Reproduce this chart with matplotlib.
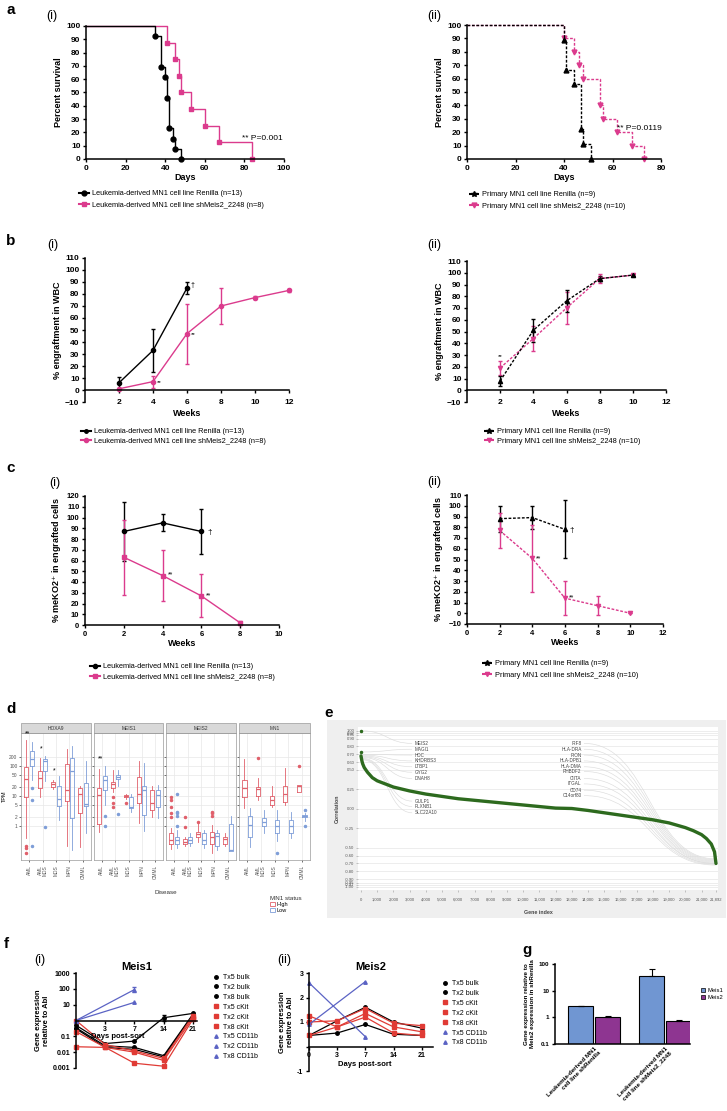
import numpy as np
import matplotlib
matplotlib.use("Agg")
from matplotlib import pyplot as plt
from matplotlib.patches import Rectangle, PathPatch, Patch
from matplotlib.path import Path
from matplotlib.lines import Line2D
from matplotlib.ticker import NullLocator

plt.rcParams['font.family'] = ['Liberation Sans', 'DejaVu Sans']

# ---------------- data ----------------
# a: Kaplan-Meier (day of drop, % survival after drop)
a1_ren_days = [35, 38, 40, 41, 42, 44, 45, 48]
a1_ren_surv = [92.3, 69.2, 61.5, 46.2, 23.1, 15.4, 7.7, 0]
a1_sh_days = [41, 45, 47, 48, 53, 60, 67, 84]
a1_sh_surv = [87.5, 75, 62.5, 50, 37.5, 25, 12.5, 0]
a2_ren_days = [40, 41, 44, 47, 48, 51]
a2_ren_surv = [88.9, 66.7, 55.6, 22.2, 11.1, 0]
a2_sh_days = [40, 44, 46, 48, 55, 56, 62, 68, 73]
a2_sh_surv = [90, 80, 70, 60, 40, 30, 20, 10, 0]

# b: engraftment in WBC
b1_ren_weeks = [2, 4, 6]
b1_ren = [6, 33, 85]
b1_ren_err = [5, 18, 5]
b1_sh_weeks = [2, 4, 6, 8, 10, 12]
b1_sh = [1, 7, 47, 70, 77, 83]
b1_sh_err = [1, 5, 25, 15, 1, 1]
b2_weeks = [2, 4, 6, 8, 10]
b2_ren = [8, 51, 76, 95, 98]
b2_ren_err = [4, 10, 9, 2, 1]
b2_sh = [19, 44, 70, 95, 98]
b2_sh_err = [6, 11, 14, 4, 1]

# c: meKO2+ in engrafted cells
c1_ren_weeks = [2, 4, 6]
c1_ren = [87, 95, 87]
c1_ren_err = [27, 8, 21]
c1_sh_weeks = [2, 4, 6, 8]
c1_sh = [63, 46, 27, 2]
c1_sh_err = [35, 24, 20, 2]
c2_ren_weeks = [2, 4, 6]
c2_ren = [88, 89, 78]
c2_ren_err = [12, 11, 27]
c2_sh_weeks = [2, 4, 6, 8, 10]
c2_sh = [77, 51, 14, 7, 0]
c2_sh_err = [16, 31, 16, 9, 0]

# d: boxplot stats [whislo, q1, med, q3, whishi] per disease
d_genes = ['HOXA9', 'MEIS1', 'MEIS2', 'MN1']
d_disease = ['AML', 'AML\nMDS', 'MDS', 'MPN', 'CMML']
hoxa9_high = [[0.39, 9.6, 37, 93, 760], [9.6, 18, 40, 66, 185], [17, 20, 25, 30, 33], [0.21, 7.1, 16, 119, 370], [0.2, 2.7, 12, 18, 21]]
hoxa9_high_out = [[0.21, 0.18, 0.13], [], [], [], []]
hoxa9_low = [[35, 97, 172, 311, 621], [31, 66, 150, 172, 210], [1.6, 4.7, 7.8, 21, 48], [0.16, 1.8, 70, 185, 456], [0.57, 4.5, 5.5, 27, 143]]
hoxa9_low_out = [[18, 7.4, 0.21], [0.9], [], [], []]
meis1_high = [[0.65, 1.2, 11, 18, 79], [14, 18, 25, 30, 75], [8, 9.3, 10, 11, 12], [1.3, 5.8, 12, 43, 143], [2, 3.4, 5.8, 16, 21]]
meis1_high_out = [[], [9.6, 5.8, 4.4], [6], [], []]
meis1_low = [[5, 16, 35, 47, 103], [21, 37, 43, 51, 75], [3, 3.9, 4.4, 9.6, 12], [0.7, 2.3, 16, 21, 126], [1.9, 4.4, 11, 16, 24]]
meis1_low_out = [[2.2, 1.0], [2.5], [], [], []]
meis2_high = [[0.17, 0.25, 0.34, 0.57, 0.84], [0.22, 0.25, 0.3, 0.36, 0.44], [0.3, 0.44, 0.55, 0.65, 1.3], [0.13, 0.26, 0.44, 0.65, 1.1], [0.22, 0.26, 0.36, 0.44, 0.57]]
meis2_high_out = [[9.1, 7.4, 4.4, 2.8, 2.0], [2.0, 0.9], [1.4], [3.0, 2.8, 2.1], []]
meis2_low = [[0.18, 0.26, 0.34, 0.44, 0.73], [0.22, 0.28, 0.34, 0.44, 0.57], [0.18, 0.25, 0.34, 0.57, 0.73], [0.16, 0.22, 0.45, 0.57, 0.73], [0.15, 0.15, 0.16, 1.2, 2.1]]
meis2_low_out = [[12, 3.0, 2.8, 2.1, 1.0], [], [], [], []]
mn1_high = [[3.9, 9.1, 18, 35, 170], [7.4, 10, 17, 20, 40], [4.4, 5, 7.4, 10, 21], [5, 6.5, 12, 21, 85], [14, 14, 22, 24, 24]]
mn1_high_out = [[], [185], [], [], [98]]
mn1_low = [[0.2, 0.44, 1.08, 2.1, 3.9], [0.6, 1.0, 1.4, 1.8, 3.3], [0.32, 0.57, 1.0, 1.6, 3.3], [0.4, 0.57, 1.0, 1.6, 3.0], [1.5, 2.0, 2.2, 2.3, 2.8]]
mn1_low_out = [[], [], [0.13], [], [3.4, 1.0]]

# e: correlation vs gene index
e_index = [0, 50, 100, 200, 400, 700, 1000, 1500, 2000, 3000, 4000, 5000, 6000, 7000, 8000,
           9000, 10000, 11000, 12000, 13000, 14000, 15000, 16000, 17000, 18000, 19000, 20000,
           20500, 21000, 21300, 21600, 21800, 21892]
e_corr = [0.68, 0.62, 0.58, 0.53, 0.47, 0.40, 0.36, 0.32, 0.28, 0.23, 0.19, 0.16, 0.13, 0.11, 0.09,
          0.07, 0.05, 0.03, 0.01, 0.005, -0.02, -0.05, -0.08, -0.11, -0.14, -0.18, -0.24,
          -0.28, -0.33, -0.38, -0.45, -0.55, -0.70]
e_top_index = [0, 0]
e_top_corr = [1.0, 0.73]
e_left_genes = ['MEIS2', 'MAGI1', 'HDC', 'KHDRBS3', 'LTBP1', 'GYG2', 'DNAH8', 'GULP1', 'PLXNB1', 'SLC22A10']
e_left_corr = [1.00, 0.73, 0.70, 0.69, 0.68, 0.67, 0.66, 0.65, 0.64, 0.63]
e_left_ypos = [0.84, 0.765, 0.69, 0.615, 0.54, 0.47, 0.39, 0.10, 0.03, -0.05]
e_right_genes = ['IRF8', 'HLA-DRA', 'PION', 'HLA-DPB1', 'HLA-DMA', 'RHBDF2', 'CIITA', 'ITGAL', 'CD74', 'C14orf80']
e_right_corr = [-0.64, -0.65, -0.66, -0.67, -0.68, -0.69, -0.70, -0.70, -0.71, -0.72]
e_right_ypos = [0.84, 0.765, 0.69, 0.615, 0.54, 0.48, 0.39, 0.32, 0.24, 0.17]

# f: qPCR time course (days 0, 3, 7, 14, 21)
f_days = ['0', '3', '7', '14', '21']
meis1_series = {
    'Tx5 bulk': [0.5, 0.035, 0.05, 1.5, 2.8],
    'Tx2 bulk': [0.35, 0.025, 0.02, 0.006, 2.5],
    'Tx8 bulk': [0.3, 0.02, 0.015, 0.005, 2.2],
    'Tx5 cKit': [1.0, 0.03, 0.012, 0.004, 2.0],
    'Tx2 cKit': [0.2, 0.02, 0.01, 0.003, 1.5],
    'Tx8 cKit': [0.022, 0.02, 0.002, 0.0013, 1.2],
    'Tx5 CD11b': [1.0, None, 90, None, None],
    'Tx2 CD11b': [1.0, None, 14, None, None],
    'Tx8 CD11b': [1.0, None, None, None, None],
}
meis2_series = {
    'Tx5 bulk': [0.45, 1.05, 1.6, 1.0, 0.75],
    'Tx2 bulk': [0.45, 0.55, 0.9, 0.5, 0.45],
    'Tx5 cKit': [1.0, 1.05, 1.55, 0.95, 0.85],
    'Tx2 cKit': [1.25, 0.8, 1.35, 0.8, 0.6],
    'Tx8 cKit': [0.45, 0.8, 1.2, 0.55, 0.45],
    'Tx5 CD11b': [2.6, None, 0.4, None, None],
    'Tx8 CD11b': [0.9, None, 2.65, None, None],
}

# g: bar chart
g_groups = ['Leukemia-derived MN1\ncell line shRenilla', 'Leukemia-derived MN1\ncell line shMeis2_2248']
g_meis1 = [2.6, 35]
g_meis1_err = [0, 30]
g_meis2 = [1.05, 0.7]
g_meis2_err = [0.1, 0.08]

# ---------------- styling ----------------
W, H = 727, 1111
PINK = '#db3b8d'
RED = '#e03b35'
BLUE = '#5b63c4'
BOXRED = '#e0606b'
BOXBLUE = '#7f9ed8'
GREEN = '#2d6a1e'

fig = plt.figure(figsize=(W / 100, H / 100), dpi=100)


def rect(l, t, r, b):
    return [l / W, 1 - b / H, (r - l) / W, (b - t) / H]


def ftext(x, y, s, **kw):
    kw.setdefault('ha', 'center')
    kw.setdefault('va', 'center')
    fig.text(x / W, 1 - y / H, s, **kw)


def style(ax, size=6):
    for s in ['top', 'right']:
        ax.spines[s].set_visible(False)
    for s in ['left', 'bottom']:
        ax.spines[s].set_linewidth(1.1)
    ax.tick_params(labelsize=size, length=2.5, width=1, pad=1.5)
    for t in ax.get_xticklabels() + ax.get_yticklabels():
        t.set_fontweight('bold')


def legend(ax, handles, labels, x, y, size=5.3, spacing=0.35, hl=1.3):
    ax.legend(handles, labels, loc='upper left', bbox_to_anchor=(x / W, 1 - y / H),
              bbox_transform=fig.transFigure, frameon=False, fontsize=size,
              handlelength=hl, handletextpad=0.4, labelspacing=spacing,
              borderpad=0, borderaxespad=0)


def km(ax, days, surv, color, marker, ls, ms=3.5):
    ax.step([0] + days, [100] + surv, where='post', color=color, lw=1, ls=ls, clip_on=False)
    ax.plot(days, surv, ls='none', marker=marker, color=color, ms=ms, clip_on=False)


def eb(ax, x, y, err, color, marker, ls, ms=3):
    ax.errorbar(x, y, yerr=err, color=color, marker=marker, ms=ms, ls=ls, lw=1,
                capsize=1.5, elinewidth=1, capthick=1, clip_on=False)


DOT = (0, (2, 1.2))
LAB = dict(fontsize=6.5, fontweight='bold')

# panel letters
for s, x, y in [('a', 11, 10), ('b', 11, 241), ('c', 11, 468), ('d', 11, 709),
                ('e', 329, 713), ('f', 6, 944), ('g', 527, 950)]:
    ftext(x, y, s, fontsize=11, fontweight='bold')
for s, x, y in [('(i)', 52, 16), ('(ii)', 434, 16), ('(i)', 53, 245), ('(ii)', 434, 245),
                ('(i)', 55, 483), ('(ii)', 434, 482), ('(i)', 40, 960), ('(ii)', 284, 960)]:
    ftext(x, y, s, fontsize=9)

# ---------- a(i) ----------
ax = fig.add_axes(rect(86, 26, 284, 159))
km(ax, a1_sh_days, a1_sh_surv, PINK, 's', '-')
km(ax, a1_ren_days, a1_ren_surv, 'k', 'o', '-')
ax.set_xlim(0, 100)
ax.set_ylim(0, 100)
ax.set_xticks(range(0, 101, 20))
ax.set_yticks(range(0, 101, 10))
ax.set_xlabel('Days', labelpad=1, **LAB)
ax.set_ylabel('Percent survival', labelpad=2, **LAB)
ax.text(79, 14, '** P=0.001', fontsize=6)
style(ax)
legend(ax, [Line2D([], [], color='k', marker='o', ms=3.5), Line2D([], [], color=PINK, marker='s', ms=3.5)],
       ['Leukemia-derived MN1 cell line Renilla (n=13)', 'Leukemia-derived MN1 cell line shMeis2_2248 (n=8)'],
       79, 190, spacing=0.6)

# ---------- a(ii) ----------
ax = fig.add_axes(rect(467, 25, 661, 159))
km(ax, a2_sh_days, a2_sh_surv, PINK, 'v', DOT)
km(ax, a2_ren_days, a2_ren_surv, 'k', '^', DOT)
ax.set_xlim(0, 80)
ax.set_ylim(0, 100)
ax.set_xticks(range(0, 81, 20))
ax.set_yticks(range(0, 101, 10))
ax.set_xlabel('Days', labelpad=1, **LAB)
ax.set_ylabel('Percent survival', labelpad=2, **LAB)
ax.text(62, 22, '** P=0.0119', fontsize=6)
style(ax)
legend(ax, [Line2D([], [], color='k', marker='*', ms=4, ls=DOT), Line2D([], [], color=PINK, marker='v', ms=3.5, ls=DOT)],
       ['Primary MN1 cell line Renilla (n=9)', 'Primary MN1 cell line shMeis2_2248 (n=10)'],
       469, 191, spacing=0.6)

# ---------- b(i) ----------
ax = fig.add_axes(rect(85, 258, 289, 402))
eb(ax, b1_ren_weeks, b1_ren, b1_ren_err, 'k', 'o', '-')
eb(ax, b1_sh_weeks, b1_sh, b1_sh_err, PINK, 'o', '-')
ax.set_xlim(0, 12)
ax.set_ylim(-10, 110)
ax.set_xticks(range(2, 13, 2))
ax.set_yticks(range(-10, 111, 10))
ax.spines['bottom'].set_position(('data', 0))
ax.set_xlabel('Weeks', labelpad=2, **LAB)
ax.set_ylabel('% engraftment in WBC', labelpad=2, **LAB)
ax.text(6.2, 86, '†', fontsize=5)
ax.text(4.2, 5, '**', fontsize=4.5)
ax.text(6.2, 45, '**', fontsize=4.5)
style(ax)
ax.tick_params(axis='x', pad=4)
legend(ax, [Line2D([], [], color='k', marker='o', ms=2.5), Line2D([], [], color=PINK, marker='o', ms=3)],
       ['Leukemia-derived MN1 cell line Renilla (n=13)', 'Leukemia-derived MN1 cell line shMeis2_2248 (n=8)'],
       81, 428)

# ---------- b(ii) ----------
ax = fig.add_axes(rect(467, 261, 666, 402))
eb(ax, b2_weeks, b2_sh, b2_sh_err, PINK, 'v', DOT)
eb(ax, b2_weeks, b2_ren, b2_ren_err, 'k', '^', DOT)
ax.set_xlim(0, 12)
ax.set_ylim(-10, 110)
ax.set_xticks(range(2, 13, 2))
ax.set_yticks(range(-10, 111, 10))
ax.spines['bottom'].set_position(('data', 0))
ax.set_xlabel('Weeks', labelpad=2, **LAB)
ax.set_ylabel('% engraftment in WBC', labelpad=2, **LAB)
ax.text(2, 27, '**', fontsize=4.5, ha='center')
style(ax)
ax.tick_params(axis='x', pad=4)
legend(ax, [Line2D([], [], color='k', marker='*', ms=4, ls=DOT), Line2D([], [], color=PINK, marker='v', ms=3, ls=DOT)],
       ['Primary MN1 cell line Renilla (n=9)', 'Primary MN1 cell line shMeis2_2248 (n=10)'],
       484, 428)

# ---------- c(i) ----------
ax = fig.add_axes(rect(85, 496, 279, 625))
eb(ax, c1_ren_weeks, c1_ren, c1_ren_err, 'k', 'o', '-')
eb(ax, c1_sh_weeks, c1_sh, c1_sh_err, PINK, 's', '-')
ax.set_xlim(0, 10)
ax.set_ylim(0, 120)
ax.set_xticks(range(0, 11, 2))
ax.set_yticks(range(0, 121, 10))
ax.set_xlabel('Weeks', labelpad=1, **LAB)
ax.set_ylabel('% meKO2$^{+}$ in engrafted cells', labelpad=2, **LAB)
ax.text(6.3, 85, '†', fontsize=6)
ax.text(4.25, 45, '**', fontsize=5)
ax.text(6.25, 26, '**', fontsize=5)
style(ax, 5.5)
legend(ax, [Line2D([], [], color='k', marker='o', ms=3), Line2D([], [], color=PINK, marker='s', ms=3)],
       ['Leukemia-derived MN1 cell line Renilla (n=13)', 'Leukemia-derived MN1 cell line shMeis2_2248 (n=8)'],
       90, 663, spacing=0.5)

# ---------- c(ii) ----------
ax = fig.add_axes(rect(467, 495, 663, 624))
eb(ax, c2_ren_weeks, c2_ren, c2_ren_err, 'k', '^', DOT)
eb(ax, c2_sh_weeks, c2_sh, c2_sh_err, PINK, 'v', DOT)
ax.set_xlim(0, 12)
ax.set_ylim(-10, 110)
ax.set_xticks(range(0, 13, 2))
ax.set_yticks(range(-10, 111, 10))
ax.set_xlabel('Weeks', labelpad=1, **LAB)
ax.set_ylabel('% meKO2$^{+}$ in engrafted cells', labelpad=2, **LAB)
ax.text(6.3, 76, '†', fontsize=6)
ax.text(4.25, 49, '**', fontsize=5)
ax.text(6.25, 13, '**', fontsize=5)
style(ax, 5.5)
legend(ax, [Line2D([], [], color='k', marker='*', ms=4, ls=DOT), Line2D([], [], color=PINK, marker='v', ms=3, ls=DOT)],
       ['Primary MN1 cell line Renilla (n=9)', 'Primary MN1 cell line shMeis2_2248 (n=10)'],
       482, 660, spacing=0.6)

# ---------- d ----------
d_high = [hoxa9_high, meis1_high, meis2_high, mn1_high]
d_high_out = [hoxa9_high_out, meis1_high_out, meis2_high_out, mn1_high_out]
d_low = [hoxa9_low, meis1_low, meis2_low, mn1_low]
d_low_out = [hoxa9_low_out, meis1_low_out, meis2_low_out, mn1_low_out]
d_left = [21, 94, 166, 239]
d_right = [91, 163, 236, 310]
pos = np.arange(1, 6)


def box_stats(rows, outs):
    return [dict(whislo=r[0], q1=r[1], med=r[2], q3=r[3], whishi=r[4], fliers=o) for r, o in zip(rows, outs)]


for i, gene in enumerate(d_genes):
    ax = fig.add_axes(rect(d_left[i], 733, d_right[i], 860))
    ax.set_yscale('log')
    for stats, off, c in [(box_stats(d_high[i], d_high_out[i]), -0.2, BOXRED),
                          (box_stats(d_low[i], d_low_out[i]), 0.2, BOXBLUE)]:
        ax.bxp(stats, positions=pos + off, widths=0.3, manage_ticks=False,
               boxprops=dict(color=c, lw=0.6), whiskerprops=dict(color=c, lw=0.6),
               capprops=dict(lw=0), medianprops=dict(color=c, lw=0.9),
               flierprops=dict(marker='o', ms=1.5, mfc=c, mec=c))
    ax.set_ylim(0.074, 1260)
    ax.set_xlim(0.4, 5.6)
    ax.set_yticks([1, 2, 5, 10, 20, 50, 100, 200])
    ax.yaxis.set_minor_locator(NullLocator())
    ax.set_yticklabels(['1', '2', '5', '10', '20', '50', '100', '200'] if i == 0 else [])
    ax.set_xticks(pos)
    ax.set_xticklabels(d_disease, rotation=90, fontsize=3.5, color='#555555', linespacing=0.9)
    ax.tick_params(axis='y', labelsize=3.5, labelcolor='#555555', length=1.5, width=0.4, pad=1)
    ax.tick_params(axis='x', length=1.5, width=0.4, pad=2)
    ax.grid(True, color='#e8e8e8', lw=0.5)
    ax.set_axisbelow(True)
    for s in ax.spines.values():
        s.set_color('#9a9a9a')
        s.set_linewidth(0.5)
    ax.add_patch(Rectangle((0, 1), 1, 10 / 127, transform=ax.transAxes, clip_on=False,
                           facecolor='#d9d9d9', edgecolor='#9a9a9a', lw=0.5))
    ax.text(0.5, 1 + 5 / 127, gene, transform=ax.transAxes, ha='center', va='center',
            fontsize=3.5, color='#333333')
    if i == 0:
        ax.set_ylabel('TPM', fontsize=4, labelpad=2)
        ax.text(0.9, 1150, '**', fontsize=5, ha='center', va='center')
        ax.text(1.9, 380, '*', fontsize=5, ha='center', va='center')
        ax.text(2.9, 70, '*', fontsize=5, ha='center', va='center')
    if i == 1:
        ax.text(0.9, 170, '**', fontsize=5, ha='center', va='center')
ftext(166, 892, 'Disease', fontsize=4.5, color='#333333')
ftext(270, 898, 'MN1 status', fontsize=4.5, ha='left', color='#333333')
fig.legend([Patch(facecolor='white', edgecolor=BOXRED, lw=0.6), Patch(facecolor='white', edgecolor=BOXBLUE, lw=0.6)],
           ['High', 'Low'], loc='upper left', bbox_to_anchor=(270 / W, 1 - 902 / H), frameon=False,
           fontsize=4, handlelength=0.9, handleheight=0.8, handletextpad=0.3, labelspacing=0.15,
           borderpad=0, borderaxespad=0)

# ---------- e ----------
fig.add_artist(Rectangle((327 / W, 1 - 918 / H), 399 / W, 198 / H, transform=fig.transFigure,
                         facecolor='#efefef', edgecolor='none', zorder=0))
ax = fig.add_axes(rect(358, 727, 718, 890))
ax.set_facecolor('white')
e_yticks = [-1, -0.97, -0.95, -0.9, -0.8, -0.7, -0.6, -0.5, -0.25, 0, 0.25, 0.5, 0.6, 0.7, 0.8, 0.9, 0.95, 0.97, 1.0]
ax.set_ylim(-1.04, 1.05)
ax.set_xlim(-185, 22015)
ax.set_yticks(e_yticks)
ax.set_yticklabels(['%.2f' % v for v in e_yticks])
e_xticks = list(range(0, 22000, 1000)) + [21892]
ax.set_xticks(e_xticks)
ax.set_xticklabels(['{:,}'.format(v) for v in e_xticks])
ax.tick_params(labelsize=3, labelcolor='#555555', length=1.5, width=0.4, pad=1, color='#999999')
ax.tick_params(axis='x', pad=4)
ax.grid(True, axis='y', color='#e6e6e6', lw=0.5)
ax.set_axisbelow(True)
for s in ax.spines.values():
    s.set_visible(False)


def link(x0, y0, x1, y1):
    xm = (x0 + x1) / 2
    p = Path([(x0, y0), (xm, y0), (xm, y1), (x1, y1)],
             [Path.MOVETO, Path.CURVE4, Path.CURVE4, Path.CURVE4])
    ax.add_patch(PathPatch(p, fc='none', ec='#dcdcdc', lw=0.45, zorder=1))


for g, c, yp in zip(e_left_genes, e_left_corr, e_left_ypos):
    link(60, c, 3150, yp)
    ax.text(3300, yp, g, fontsize=3.3, color='#444444', va='center', ha='left')
for g, c, yp in zip(e_right_genes, e_right_corr, e_right_ypos):
    link(21850, c, 13750, yp)
    ax.text(13600, yp, g, fontsize=3.3, color='#444444', va='center', ha='right')
ax.plot(e_index, e_corr, color=GREEN, lw=2.4, solid_capstyle='round', zorder=3)
ax.plot(e_top_index, e_top_corr, 'o', color=GREEN, ms=1.5, zorder=3, clip_on=False)
ax.set_xlabel('Gene index', fontsize=3.8, fontweight='bold', color='#444444', labelpad=6)
ax.set_ylabel('Correlation', fontsize=3.8, fontweight='bold', color='#444444', labelpad=4)

# ---------- f(i) ----------
f_colors = {'bulk': 'k', 'cKit': RED, 'CD11b': BLUE}
f_markers = {'bulk': 'o', 'cKit': 's', 'CD11b': '^'}
f_pos = np.arange(len(f_days))


def draw_series(ax, series):
    handles = []
    for name, vals in series.items():
        kind = name.split()[1]
        xs = [p for p, v in zip(f_pos, vals) if v is not None]
        ys = [v for v in vals if v is not None]
        ax.plot(xs, ys, color=f_colors[kind], marker=f_markers[kind], ms=2.5, lw=0.9, clip_on=False)
        handles.append(Line2D([], [], color=f_colors[kind], marker=f_markers[kind], ms=2.5, ls='none'))
    return handles


ax = fig.add_axes(rect(76, 973, 197, 1068))
ax.set_yscale('log')
h = draw_series(ax, meis1_series)
ax.errorbar([2], [90], yerr=[[30], [35]], color=BLUE, capsize=1.5, lw=0.8, ls='none')
ax.errorbar([3], [1.5], yerr=[[0.6], [0.8]], color='k', capsize=1.5, lw=0.8, ls='none')
ax.set_ylim(0.001, 1000)
ax.set_xlim(0, 4.14)
ax.spines['bottom'].set_position(('data', 1))
ax.set_xticks(f_pos[1:])
ax.set_xticklabels(f_days[1:])
ax.set_yticks([0.001, 0.01, 0.1, 10, 100, 1000])
ax.set_yticklabels(['0.001', '0.01', '0.1', '10', '100', '1000'])
ax.yaxis.set_minor_locator(NullLocator())
ax.set_title('Meis1', fontsize=8, fontweight='bold', pad=2)
ax.set_ylabel('Gene expression\nrelative to Abl', fontsize=5.5, fontweight='bold', labelpad=2)
style(ax, 5)
ftext(118, 1037, 'Days post-sort', fontsize=5.5, fontweight='bold')
legend(ax, h, list(meis1_series.keys()), 211, 974, size=5, spacing=0.42)

# ---------- f(ii) ----------
ax = fig.add_axes(rect(309, 973, 433, 1071))
h = draw_series(ax, meis2_series)
ax.set_ylim(-1, 3)
ax.set_xlim(0, 4.4)
ax.spines['bottom'].set_position(('data', 0))
ax.set_xticks(f_pos)
ax.set_xticklabels(f_days)
ax.set_yticks([-1, 0, 1, 2, 3])
ax.set_yticklabels(['-1', '', '1', '2', '3'])
ax.set_title('Meis2', fontsize=8, fontweight='bold', pad=2)
ax.set_ylabel('Gene expression\nrelative to Abl', fontsize=5.5, fontweight='bold', labelpad=2)
style(ax, 5)
ftext(365, 1064, 'Days post-sort', fontsize=5.5, fontweight='bold')
legend(ax, h, list(meis2_series.keys()), 440, 980, size=5, spacing=0.42)

# ---------- g ----------
ax = fig.add_axes(rect(555, 964, 690, 1044))
ax.set_yscale('log')
gx = np.arange(len(g_groups))
ax.bar(gx - 0.19, g_meis1, 0.36, color='#7096d2', edgecolor='k', lw=0.8,
       yerr=[np.zeros(2), g_meis1_err], capsize=2, error_kw=dict(lw=0.8, capthick=0.8))
ax.bar(gx + 0.19, g_meis2, 0.36, color='#8e3591', edgecolor='k', lw=0.8,
       yerr=[np.zeros(2), g_meis2_err], capsize=2, error_kw=dict(lw=0.8, capthick=0.8))
ax.set_ylim(0.1, 100)
ax.set_xlim(-0.55, 1.35)
ax.set_yticks([0.1, 1, 10, 100])
ax.set_yticklabels(['0.1', '1', '10', '100'])
ax.yaxis.set_minor_locator(NullLocator())
ax.set_xticks(gx)
ax.set_xticklabels(g_groups, rotation=45, ha='right', rotation_mode='anchor', fontsize=4.5)
ax.set_ylabel('Gene expression relative to\nMeis2 expression in shRenilla', fontsize=4.5,
              fontweight='bold', labelpad=3)
style(ax, 4.5)
ax.tick_params(axis='x', length=0)
legend(ax, [Patch(facecolor='#7096d2', edgecolor='k', lw=0.5), Patch(facecolor='#8e3591', edgecolor='k', lw=0.5)],
       ['Meis1', 'Meis2'], 701, 988, size=4.2, spacing=0.3, hl=0.7)

fig.savefig('out.png', dpi=100)
